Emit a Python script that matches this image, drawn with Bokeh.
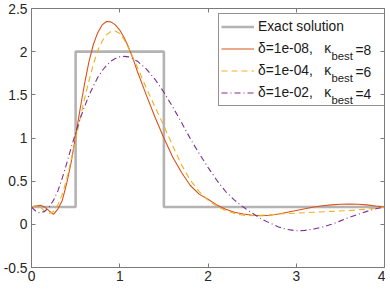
from bokeh.plotting import figure
from bokeh.models import Legend, LegendItem, LinearAxis, Label, FixedTicker, Range1d
from bokeh.embed import file_html
from bokeh.resources import INLINE

# ---------------- data ----------------
x_exact = [0, 0.5, 0.5, 1.5, 1.5, 4]
y_exact = [0.2, 0.2, 2.0, 2.0, 0.2, 0.2]

x_d8 = [0, 0.05, 0.1, 0.15, 0.2, 0.25, 0.3, 0.35, 0.4, 0.45, 0.5, 0.55, 0.6, 0.65, 0.7,
        0.75, 0.8, 0.85, 0.9, 0.95, 1.0, 1.05, 1.1, 1.15, 1.2, 1.3, 1.4, 1.5, 1.6, 1.7,
        1.8, 1.9, 2.0, 2.1, 2.2, 2.3, 2.4, 2.5, 2.6, 2.7, 2.8, 2.9, 3.0, 3.1, 3.2, 3.3,
        3.4, 3.5, 3.6, 3.7, 3.8, 3.9, 4.0]
y_d8 = [0.20, 0.212, 0.22, 0.20, 0.155, 0.115, 0.18, 0.28, 0.48, 0.72, 1.02, 1.33, 1.62, 1.88, 2.08,
        2.22, 2.31, 2.35, 2.345, 2.31, 2.25, 2.16, 2.05, 1.92, 1.77, 1.50, 1.24, 1.00, 0.78, 0.60,
        0.45, 0.35, 0.29, 0.225, 0.175, 0.14, 0.12, 0.105, 0.10, 0.105, 0.12, 0.14, 0.16, 0.18, 0.20, 0.215,
        0.225, 0.232, 0.235, 0.233, 0.225, 0.212, 0.20]

x_d4 = [0, 0.05, 0.1, 0.15, 0.2, 0.25, 0.3, 0.35, 0.4, 0.45, 0.5, 0.55, 0.6, 0.65, 0.7,
        0.75, 0.8, 0.85, 0.9, 0.95, 1.0, 1.05, 1.1, 1.15, 1.2, 1.3, 1.4, 1.5, 1.6, 1.7,
        1.8, 1.9, 2.0, 2.1, 2.2, 2.3, 2.4, 2.5, 2.6, 2.7, 2.8, 2.9, 3.0, 3.2, 3.4, 3.6,
        3.8, 4.0]
y_d4 = [0.20, 0.215, 0.20, 0.15, 0.125, 0.15, 0.23, 0.35, 0.53, 0.75, 0.98, 1.22, 1.45, 1.66, 1.85,
        2.01, 2.12, 2.195, 2.235, 2.24, 2.21, 2.14, 2.04, 1.93, 1.82, 1.58, 1.36, 1.14, 0.91, 0.69,
        0.51, 0.38, 0.28, 0.21, 0.16, 0.125, 0.105, 0.10, 0.105, 0.11, 0.12, 0.125, 0.13, 0.14, 0.15, 0.16,
        0.175, 0.20]

x_d2 = [0, 0.05, 0.1, 0.15, 0.2, 0.25, 0.3, 0.35, 0.4, 0.45, 0.5, 0.55, 0.6, 0.65, 0.7,
        0.75, 0.8, 0.85, 0.9, 0.95, 1.0, 1.05, 1.1, 1.2, 1.3, 1.4, 1.5, 1.6, 1.7, 1.8,
        1.9, 2.0, 2.1, 2.2, 2.3, 2.4, 2.5, 2.6, 2.7, 2.8, 2.9, 3.0, 3.1, 3.2, 3.3, 3.4,
        3.5, 3.6, 3.7, 3.8, 3.9, 4.0]
y_d2 = [0.20, 0.15, 0.13, 0.15, 0.20, 0.28, 0.39, 0.54, 0.71, 0.89, 1.06, 1.22, 1.36, 1.49, 1.60,
        1.70, 1.78, 1.84, 1.89, 1.92, 1.94, 1.945, 1.94, 1.89, 1.80, 1.68, 1.53, 1.36, 1.18, 0.99,
        0.82, 0.66, 0.51, 0.38, 0.28, 0.20, 0.13, 0.065, 0.015, -0.03, -0.06, -0.075, -0.07, -0.055, -0.03, 0.0,
        0.04, 0.08, 0.115, 0.15, 0.18, 0.20]

xticks = [0, 1, 2, 3, 4]
xtick_labels = ["0", "1", "2", "3", "4"]
yticks = [-0.5, 0, 0.5, 1, 1.5, 2, 2.5]
ytick_labels = ["-0.5", "0", "0.5", "1", "1.5", "2", "2.5"]

deltas = ["1e-08", "1e-04", "1e-02"]
kappas = [8, 6, 4]

# ---------------- styles ----------------
FONT = "Liberation Sans"
FS = "13.8px"
AX = "#262626"
AXLINE = "#7a7a7a"
C_EXACT = "#b3b3b3"
C_D8 = "#d95319"
C_D4 = "#edb120"
C_D2 = "#7e2f8e"

p = figure(width=385, height=287, x_range=Range1d(0, 4), y_range=Range1d(-0.5, 2.5),
           output_backend="svg", toolbar_location=None,
           min_border_left=28, min_border_right=1, min_border_top=8, min_border_bottom=20)
p.grid.visible = False
p.outline_line_color = None
p.background_fill_color = "white"
p.border_fill_color = "white"

for ax in (p.xaxis[0], p.yaxis[0]):
    ax.major_tick_in = 4
    ax.major_tick_out = 0
    ax.minor_tick_in = 0
    ax.minor_tick_out = 0
    ax.axis_line_color = AXLINE
    ax.major_tick_line_color = AXLINE
    ax.major_label_text_font = FONT
    ax.major_label_text_font_size = FS
    ax.major_label_text_color = AX

p.xaxis.ticker = FixedTicker(ticks=xticks)
p.xaxis.major_label_overrides = dict(zip(xticks, xtick_labels))
p.xaxis.major_label_standoff = 3
p.yaxis.ticker = FixedTicker(ticks=yticks)
p.yaxis.major_label_overrides = dict(zip(yticks, ytick_labels))
p.yaxis.major_label_standoff = 4

for side, tk in (("above", xticks), ("right", yticks)):
    a = LinearAxis(ticker=FixedTicker(ticks=tk),
                   major_label_overrides={t: "" for t in tk},
                   major_label_text_font_size="1px",
                   major_label_standoff=0, major_tick_in=4, major_tick_out=0,
                   minor_tick_in=0, minor_tick_out=0,
                   axis_line_color=AXLINE, major_tick_line_color=AXLINE)
    p.add_layout(a, side)

r_exact = p.line(x_exact, y_exact, line_color=C_EXACT, line_width=2.6)
r_d8 = p.line(x_d8, y_d8, line_color=C_D8, line_width=1.1)
r_d4 = p.line(x_d4, y_d4, line_color=C_D4, line_width=1.1, line_dash="6 4")
r_d2 = p.line(x_d2, y_d2, line_color=C_D2, line_width=1.1, line_dash="6 3 1 3")

labels = ["Exact solution"] + ["\u03b4=%s,   \u03ba" % d for d in deltas]
renderers = [r_exact, r_d8, r_d4, r_d2]

PAD = 2
GH = 21
SP = 1
GW = 33
STAND = 4
LX, LY = 187, 161   # legend bottom-left (frame px)
n = len(labels)
LH = n * GH + (n - 1) * SP + 2 * PAD

legend = Legend(items=[LegendItem(label=l, renderers=[r]) for l, r in zip(labels, renderers)],
                location=(LX, LY), margin=0, padding=PAD, spacing=SP,
                glyph_width=GW, glyph_height=GH, label_height=GH, label_width=125,
                label_standoff=STAND, label_text_font=FONT, label_text_font_size=FS,
                label_text_color="#1a1a1a", border_line_color=AX, border_line_width=1,
                background_fill_alpha=0.0)
p.add_layout(legend)

text_x0 = LX + PAD + GW + STAND
top = LY + LH
for i, k in enumerate(kappas):
    r = i + 1
    cy = top - PAD - r * (GH + SP) - GH / 2
    p.add_layout(Label(x=text_x0 + 74, y=cy - 6, x_units="screen", y_units="screen",
                       text="best", text_font=FONT, text_font_size="11.3px",
                       text_color="#1a1a1a", text_baseline="middle"))
    p.add_layout(Label(x=text_x0 + 98, y=cy, x_units="screen", y_units="screen",
                       text="=%d" % k, text_font=FONT, text_font_size=FS,
                       text_color="#1a1a1a", text_baseline="middle"))

open("out.html", "w").write(file_html(p, INLINE))
